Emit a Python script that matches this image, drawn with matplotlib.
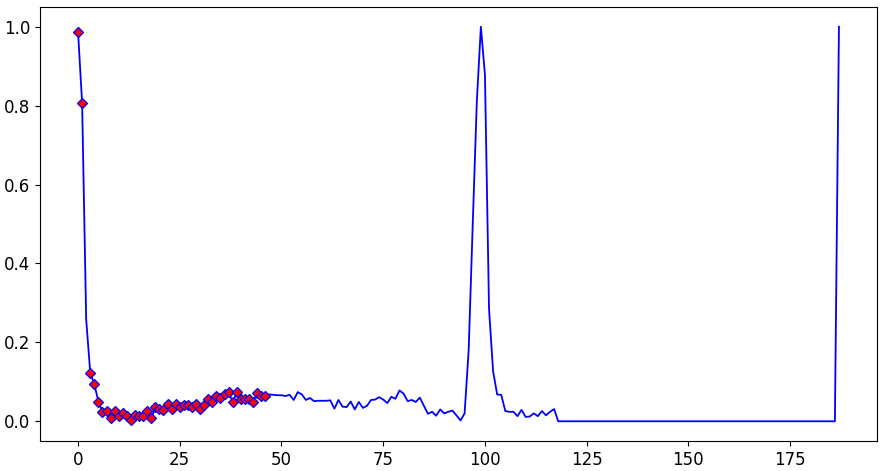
"""
Single heartbeat signal with the first samples highlighted.
"""

import matplotlib
matplotlib.use("Agg")
import matplotlib.pyplot as plt

# signal samples (188 points, index 0..187)
signal = [
    0.987, 0.807, 0.258, 0.123, 0.094, 0.050, 0.024, 0.026, 0.009, 0.026,
    0.014, 0.020, 0.014, 0.003, 0.017, 0.014, 0.014, 0.026, 0.008, 0.035,
    0.031, 0.029, 0.043, 0.031, 0.045, 0.035, 0.040, 0.042, 0.035, 0.044,
    0.031, 0.040, 0.056, 0.050, 0.064, 0.060, 0.068, 0.075, 0.048, 0.073,
    0.056, 0.056, 0.056, 0.049, 0.072, 0.063, 0.063, 0.068, 0.067, 0.066,
    0.066, 0.064, 0.067, 0.054, 0.074, 0.068, 0.054, 0.059, 0.051, 0.052,
    0.052, 0.052, 0.053, 0.032, 0.054, 0.037, 0.036, 0.050, 0.030, 0.049,
    0.034, 0.039, 0.054, 0.055, 0.061, 0.055, 0.046, 0.062, 0.057, 0.078,
    0.070, 0.051, 0.054, 0.049, 0.060, 0.039, 0.019, 0.024, 0.014, 0.030,
    0.020, 0.024, 0.027, 0.015, 0.002, 0.020, 0.180, 0.500, 0.810, 1.000,
    0.878, 0.285, 0.127, 0.068, 0.067, 0.026, 0.024, 0.024, 0.013, 0.029,
    0.011, 0.012, 0.020, 0.013, 0.026, 0.015, 0.024, 0.031, 0.000, 0.000,
    0.000, 0.000, 0.000, 0.000, 0.000, 0.000, 0.000, 0.000, 0.000, 0.000,
    0.000, 0.000, 0.000, 0.000, 0.000, 0.000, 0.000, 0.000, 0.000, 0.000,
    0.000, 0.000, 0.000, 0.000, 0.000, 0.000, 0.000, 0.000, 0.000, 0.000,
    0.000, 0.000, 0.000, 0.000, 0.000, 0.000, 0.000, 0.000, 0.000, 0.000,
    0.000, 0.000, 0.000, 0.000, 0.000, 0.000, 0.000, 0.000, 0.000, 0.000,
    0.000, 0.000, 0.000, 0.000, 0.000, 0.000, 0.000, 0.000, 0.000, 0.000,
    0.000, 0.000, 0.000, 0.000, 0.000, 0.000, 0.000, 1.000,
]

# indices of the highlighted samples
marked = [0, 1] + list(range(3, 47))


def main():
    fig = plt.figure(figsize=(8.83, 4.71), dpi=100)
    ax = fig.add_axes([40 / 883, 30 / 471, 837 / 883, 434 / 471])

    x = list(range(len(signal)))
    ax.plot(x, signal, color="blue", linewidth=1.3)
    ax.plot(marked, [signal[i] for i in marked], linestyle="none",
            marker="D", markersize=5, markerfacecolor="red",
            markeredgecolor="blue", markeredgewidth=0.9)

    ax.set_xticks([0, 25, 50, 75, 100, 125, 150, 175])
    ax.set_yticks([0.0, 0.2, 0.4, 0.6, 0.8, 1.0])
    ax.tick_params(labelsize=12)

    fig.savefig("out.png", dpi=100)


if __name__ == "__main__":
    main()
